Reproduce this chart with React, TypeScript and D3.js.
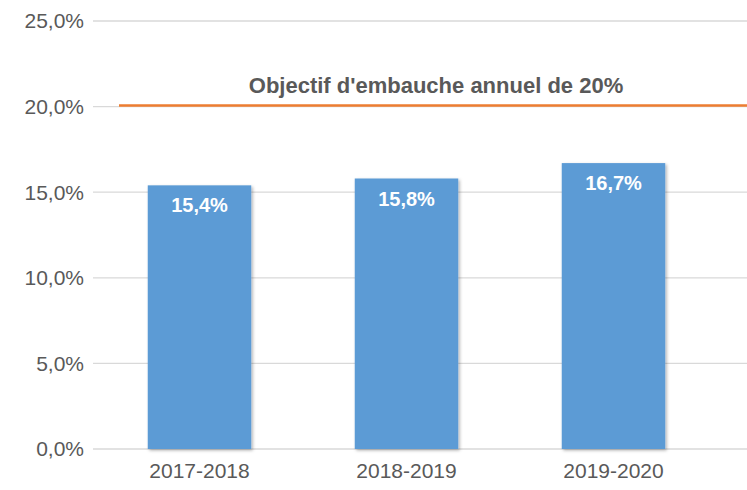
import React from "react";
import * as d3 from "d3";

const categories = ["2017-2018", "2018-2019", "2019-2020"];
const values = [15.4, 15.8, 16.7];
const yTicks = [0, 5, 10, 15, 20, 25];
const targetValue = 20;
const targetLabel = "Objectif d'embauche annuel de 20%";

const W = 747;
const H = 490;
const FONT = "'Liberation Sans', Arial, sans-serif";

const fmt = (v: number, d: number) => v.toFixed(d).replace(".", ",") + "%";

export default function App() {
  const y = d3.scaleLinear().domain([0, 25]).range([449, 21]);
  const x = d3.scaleBand<string>().domain(categories).range([96, 717]).paddingInner(0.5).paddingOuter(0.25);

  return (
    <svg width={W} height={H} style={{ position: "absolute", left: 0, top: 0, background: "#fff" }}>
      <defs>
        <filter id="shadow" x="-20%" y="-20%" width="140%" height="140%">
          <feDropShadow dx="1.5" dy="1.5" stdDeviation="1.5" floodColor="#000" floodOpacity="0.3" />
        </filter>
      </defs>
      {yTicks.map((t) => (
        <g key={t}>
          <line x1={93} x2={W} y1={y(t)} y2={y(t)} stroke="#d9d9d9" strokeWidth={1.3} />
          <text x={84} y={y(t)} dy="0.35em" textAnchor="end" fontFamily={FONT} fontSize={21} fill="#595959">
            {fmt(t, 1)}
          </text>
        </g>
      ))}
      {categories.map((c, i) => {
        const bx = x(c)!;
        const bw = x.bandwidth();
        return (
          <g key={c}>
            <rect x={bx} y={y(values[i])} width={bw} height={y(0) - y(values[i])} fill="#5B9BD5" filter="url(#shadow)" />
            <text x={bx + bw / 2} y={y(values[i]) + 20} dy="0.35em" textAnchor="middle" fontFamily={FONT} fontSize={20} fontWeight="bold" fill="#fff">
              {fmt(values[i], 1)}
            </text>
            <text x={bx + bw / 2} y={471} dy="0.35em" textAnchor="middle" fontFamily={FONT} fontSize={21} fill="#595959">
              {c}
            </text>
          </g>
        );
      })}
      <line x1={119} x2={W} y1={y(targetValue) - 1} y2={y(targetValue) - 1} stroke="#ED7D31" strokeWidth={2.5} />
      <text x={436} y={85} dy="0.35em" textAnchor="middle" fontFamily={FONT} fontSize={22} fontWeight="bold" fill="#595959">
        {targetLabel}
      </text>
    </svg>
  );
}
